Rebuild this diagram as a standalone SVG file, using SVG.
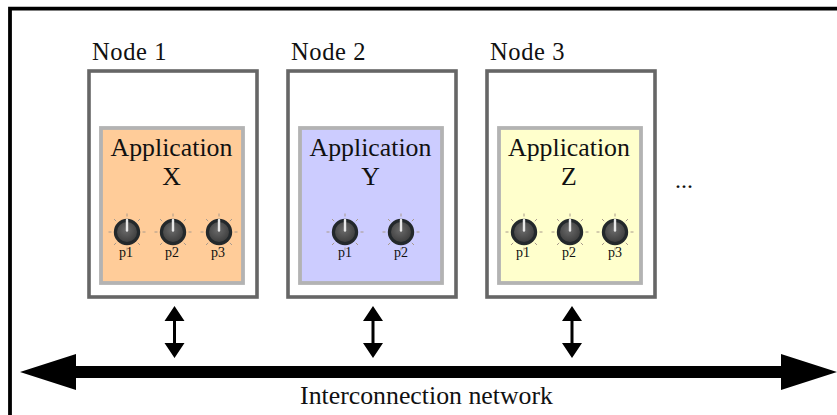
<svg xmlns="http://www.w3.org/2000/svg" width="837" height="415" viewBox="0 0 837 415">
<style>
text{font-family:"Liberation Serif","Times New Roman",serif;fill:#111;text-anchor:middle}
.nl{font-size:24.500px;letter-spacing:.6px;text-anchor:start}
.al{font-size:25.800px}
.pl{font-size:14px}
.nb{fill:#fff;stroke:#666;stroke-width:3.600}
.ab{stroke:#b3b3b3;stroke-width:3.800}
.ar{fill:#000}
.tk{stroke:#a89a8c;stroke-width:1}
</style>
<defs>
<radialGradient id="kg" cx="45%" cy="40%" r="65%"><stop offset="0" stop-color="#6a6a6a"/><stop offset="1" stop-color="#3c3c3c"/></radialGradient>
<g id="knob">
<g class="tk"><path d="M0-18.500v3M0 18.500v-3M-18.500 0h3M18.500 0h-3M-13-13l2.200 2.200M13-13l-2.200 2.200M-13 13l2.200-2.200M13 13l-2.200-2.200"/></g>
<circle r="13.200" fill="#23282b"/>
<circle r="10" fill="url(#kg)"/>
<path d="M0-12V-1.500" stroke="#e8e8e8" stroke-width="2.400" stroke-linecap="round"/>
</g>
</defs>
<rect width="837" height="415" fill="#fff"/>
<path id="frame" d="M10 415V8.700H837" fill="none" stroke="#000" stroke-width="3.800"/>
<g id="node1">
<text class="nl" x="92" y="60">Node 1</text>
<rect class="nb" x="89" y="71" width="168" height="226"/>
<rect class="ab" x="101" y="128" width="142" height="155" fill="#ffcc99"/>
<text class="al" x="171.500" y="156">Application</text>
<text class="al" x="171.500" y="185">X</text>
<use href="#knob" x="127" y="232"/><use href="#knob" x="173" y="232"/><use href="#knob" x="219" y="232"/>
<text class="pl" x="126" y="257">p1</text><text class="pl" x="172" y="257">p2</text><text class="pl" x="218" y="257">p3</text>
</g>
<g id="node2">
<text class="nl" x="291" y="60">Node 2</text>
<rect class="nb" x="288" y="71" width="168" height="226"/>
<rect class="ab" x="300" y="128" width="142" height="155" fill="#ccccff"/>
<text class="al" x="370.500" y="156">Application</text>
<text class="al" x="370.500" y="185">Y</text>
<use href="#knob" x="345" y="232"/><use href="#knob" x="401" y="232"/>
<text class="pl" x="345" y="257">p1</text><text class="pl" x="401" y="257">p2</text>
</g>
<g id="node3">
<text class="nl" x="490" y="60">Node 3</text>
<rect class="nb" x="487" y="71" width="168" height="226"/>
<rect class="ab" x="499" y="128" width="142" height="155" fill="#ffffcc"/>
<text class="al" x="569" y="156">Application</text>
<text class="al" x="569" y="185">Z</text>
<use href="#knob" x="524" y="232"/><use href="#knob" x="570" y="232"/><use href="#knob" x="615" y="232"/>
<text class="pl" x="523" y="257">p1</text><text class="pl" x="569" y="257">p2</text><text class="pl" x="615" y="257">p3</text>
</g>
<text x="684" y="188" style="font-size:24px">...</text>
<g id="connectors">
<path class="ar" d="M174.500 306l10 15h-8.500v22h8.500l-10 15-10-15h8.500v-22h-8.500z"/>
<path class="ar" d="M373 306l10 15h-8.500v22h8.500l-10 15-10-15h8.500v-22h-8.500z"/>
<path class="ar" d="M572 306l10 15h-8.500v22h8.500l-10 15-10-15h8.500v-22h-8.500z"/>
<path class="ar" d="M20 372l56-18v12H781v-12l56 18-56 18v-12H76v12z"/>
</g>
<text x="426.500" y="404" style="font-size:25.800px">Interconnection network</text>
</svg>
